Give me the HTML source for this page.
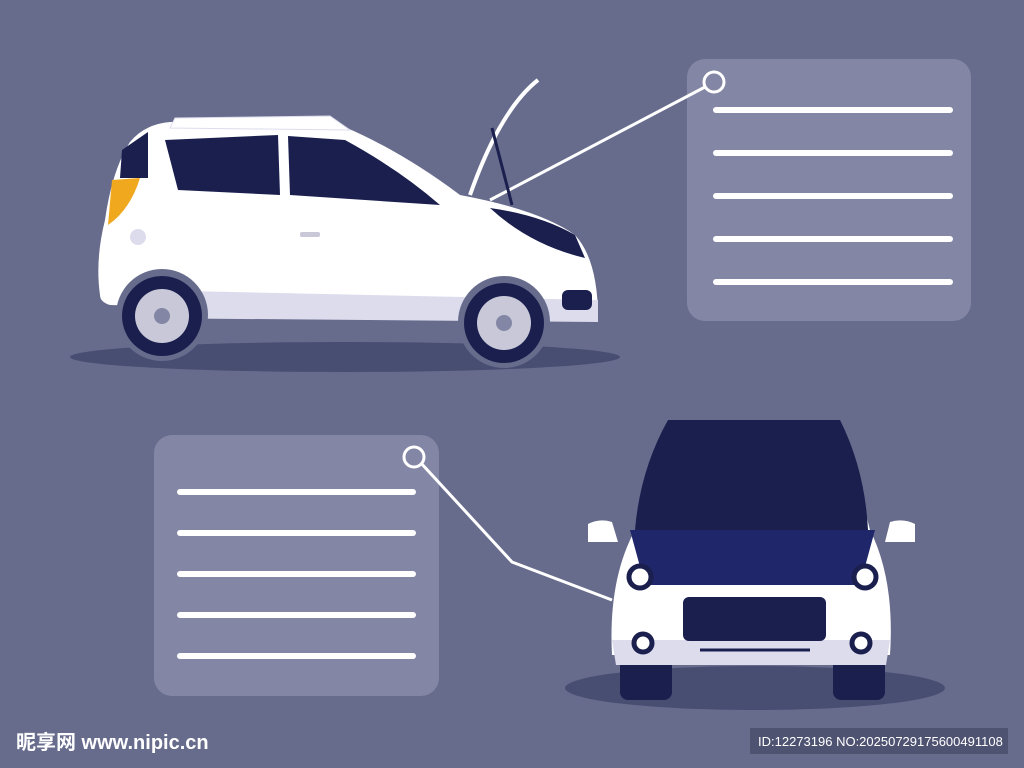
<!DOCTYPE html>
<html><head><meta charset="utf-8"><style>
html,body{margin:0;padding:0;background:#676c8d;}
svg{display:block}
</style></head><body>
<svg width="1024" height="768" viewBox="0 0 1024 768" xmlns="http://www.w3.org/2000/svg">
<rect width="1024" height="768" fill="#676c8d"/>
<rect x="687" y="59" width="284" height="262" rx="18" fill="#8386a4"/>
<g stroke="#fff" stroke-width="6" stroke-linecap="round">
<line x1="716" y1="110" x2="950" y2="110"/><line x1="716" y1="153" x2="950" y2="153"/>
<line x1="716" y1="196" x2="950" y2="196"/><line x1="716" y1="239" x2="950" y2="239"/>
<line x1="716" y1="282" x2="950" y2="282"/>
</g>
<rect x="154" y="435" width="285" height="261" rx="18" fill="#8386a4"/>
<g stroke="#fff" stroke-width="6" stroke-linecap="round">
<line x1="180" y1="492" x2="413" y2="492"/><line x1="180" y1="533" x2="413" y2="533"/>
<line x1="180" y1="574" x2="413" y2="574"/><line x1="180" y1="615" x2="413" y2="615"/>
<line x1="180" y1="656" x2="413" y2="656"/>
</g>
<polyline points="705,87 490,200" fill="none" stroke="#fff" stroke-width="3"/>
<circle cx="714" cy="82" r="10" fill="#8386a4" stroke="#fff" stroke-width="3"/>
<polyline points="420,462 512,562 612,600" fill="none" stroke="#fff" stroke-width="3"/>
<circle cx="414" cy="457" r="10" fill="#8386a4" stroke="#fff" stroke-width="3"/>
<!-- side car -->
<ellipse cx="345" cy="357" rx="275" ry="15" fill="#484d72"/>
<path d="M470,195 Q500,110 538,80" fill="none" stroke="#fff" stroke-width="4"/>
<line x1="492" y1="128" x2="512" y2="205" stroke="#1a1f4e" stroke-width="3"/>
<path d="M100,295 Q95,260 105,220 Q112,170 130,142 Q145,124 170,122 L340,125 Q400,150 460,195 Q540,210 575,235 Q598,260 598,318 L110,305 Q100,302 100,295 Z" fill="#fff"/>
<path d="M140,290 L598,300 L598,322 L130,318 Z" fill="#dcdced"/>
<path d="M165,140 L278,135 L280,195 L178,190 Z" fill="#1a1f4e"/>
<path d="M288,136 L345,140 Q400,170 440,205 L290,195 Z" fill="#1a1f4e"/>
<path d="M490,208 Q540,215 575,235 L585,258 Q530,245 490,208 Z" fill="#1a1f4e"/>
<path d="M122,150 L148,132 L148,178 L120,178 Z" fill="#1a1f4e"/>
<path d="M112,180 L140,178 Q130,210 108,225 Z" fill="#f0a81e"/>
<path d="M175,118 L330,116 L350,130 L170,128 Z" fill="#fff" stroke="#dcdced"/>
<circle cx="138" cy="237" r="8" fill="#dcdced"/>
<rect x="300" y="232" width="20" height="5" rx="2" fill="#c8c8d8"/>
<circle cx="162" cy="315" r="46" fill="#676c8d"/>
<circle cx="162" cy="316" r="40" fill="#1a1f4e"/>
<circle cx="162" cy="316" r="27" fill="#c8c8d8"/>
<circle cx="162" cy="316" r="8" fill="#8386a4"/>
<circle cx="504" cy="322" r="46" fill="#676c8d"/>
<circle cx="504" cy="323" r="40" fill="#1a1f4e"/>
<circle cx="504" cy="323" r="27" fill="#c8c8d8"/>
<circle cx="504" cy="323" r="8" fill="#8386a4"/>
<rect x="562" y="290" width="30" height="20" rx="6" fill="#1a1f4e"/>
<!-- front car -->
<ellipse cx="755" cy="688" rx="190" ry="22" fill="#484d72"/>
<rect x="620" y="650" width="52" height="50" rx="8" fill="#1a1f4e"/>
<rect x="833" y="650" width="52" height="50" rx="8" fill="#1a1f4e"/>
<path d="M660,450 L850,450 L870,530 Q895,580 890,655 L612,655 Q608,580 635,530 Z" fill="#fff"/>
<path d="M612,640 L890,640 L886,665 L616,665 Z" fill="#dcdced"/>
<path d="M668,420 L840,420 Q865,470 868,530 L635,530 Q640,470 668,420 Z" fill="#1a1f4e"/>
<path d="M630,530 L875,530 L860,585 L645,585 Z" fill="#20266a"/>
<rect x="683" y="597" width="143" height="44" rx="6" fill="#1a1f4e"/>
<line x1="700" y1="650" x2="810" y2="650" stroke="#1a1f4e" stroke-width="3"/>
<circle cx="640" cy="577" r="11" fill="#fff" stroke="#1a1f4e" stroke-width="5"/>
<circle cx="865" cy="577" r="11" fill="#fff" stroke="#1a1f4e" stroke-width="5"/>
<circle cx="643" cy="643" r="9" fill="#fff" stroke="#1a1f4e" stroke-width="5"/>
<circle cx="861" cy="643" r="9" fill="#fff" stroke="#1a1f4e" stroke-width="5"/>
<path d="M588,524 Q600,518 612,522 L618,542 L588,542 Z" fill="#fff"/>
<path d="M890,522 Q903,518 915,524 L915,542 L885,542 Z" fill="#fff"/>
<text x="16" y="749" font-family="Liberation Sans, Noto Sans CJK SC, sans-serif" font-size="20" font-weight="bold" fill="#fff">昵享网 www.nipic.cn</text>
<rect x="750" y="728" width="258" height="26" fill="#4f5372"/>
<text x="758" y="746" font-family="Liberation Sans, sans-serif" font-size="13" fill="#fff">ID:12273196 NO:20250729175600491108</text>
</svg>
</body></html>
